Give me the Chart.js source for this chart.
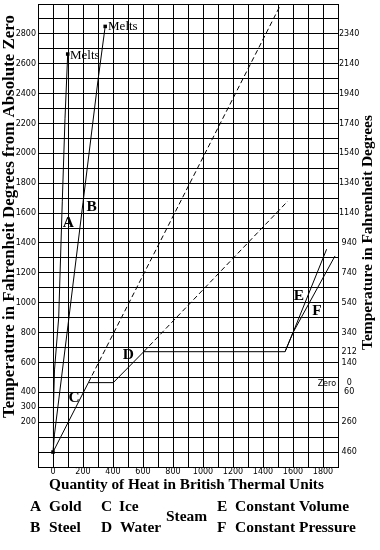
<!DOCTYPE html>
<html><head><meta charset="utf-8">
<script src="https://cdn.jsdelivr.net/npm/chart.js@4"></script>
<style>html,body{margin:0;padding:0;background:#fff;}canvas{display:block;}</style>
</head><body>
<canvas id="c" width="380" height="550"></canvas>
<script>
// ---- data (BTU vs. degrees Fahrenheit from absolute zero) ----
const seriesKeys  = ['A', 'B', 'C', 'D', 'E', 'F'];
const seriesNames = ['Gold', 'Steel', 'Ice', 'Water', 'Constant Volume', 'Constant Pressure'];

const goldBtu   = [0, 3, 10, 38, 62, 80, 98];
const goldTemp  = [0, 300, 550, 900, 1680, 2235, 2665];
const steelBtu  = [0, 10, 100, 200, 300, 348];
const steelTemp = [0, 120, 850, 1670, 2490, 2850];
const iceBtu    = [0, 236, 402];
const iceTemp   = [0, 465, 465];
const iceExtBtu  = [236, 1520];
const iceExtTemp = [465, 3000];
const waterBtu   = [402, 605, 1547];
const waterTemp  = [465, 672, 672];
const waterExtBtu  = [605, 1565];
const waterExtTemp = [672, 1680];
const volBtu   = [1547, 1600, 1824];
const volTemp  = [672, 800, 1358];
const presBtu  = [1547, 1600, 1880];
const presTemp = [672, 800, 1313];

const xTickLabels    = [0, 200, 400, 600, 800, 1000, 1200, 1400, 1600, 1800];
const leftTickLabels = [200, 300, 400, 600, 800, 1000, 1200, 1400, 1600, 1800, 2000, 2200, 2400, 2600, 2800];
const rightTickValues = [0, 200, 400, 460, 600, 672, 800, 1000, 1200, 1400, 1600, 1800, 2000, 2200, 2400, 2600, 2800];
const rightTickLabels = ['460', '260', '60', '0', '140', '212', '340', '540', '740', '940', '1140', '1340', '1540', '1740', '1940', '2140', '2340'];

// ---- text annotations placed in data coordinates ----
const SERIF = '"Liberation Serif", "Times New Roman", serif';
const SANS = '"DejaVu Sans", sans-serif';
const annotations = [
  { text: 'A', x: 102, y: 1542, kind: 'key', align: 'center' },
  { text: 'B', x: 258, y: 1647, kind: 'key', align: 'center' },
  { text: 'C', x: 140, y: 367, kind: 'key', align: 'center' },
  { text: 'D', x: 502, y: 658, kind: 'key', align: 'center' },
  { text: 'E', x: 1640, y: 1050, kind: 'key', align: 'center' },
  { text: 'F', x: 1760, y: 950, kind: 'key', align: 'center' },
  { text: 'Melts', x: 113, y: 2663, kind: 'melts', align: 'left' },
  { text: 'Melts', x: 367, y: 2853, kind: 'melts', align: 'left' },
  { text: 'Zero', x: 1887, y: 460, kind: 'small', align: 'right' }
];

function fitSize(ctx, text, weight, family, target) {
  ctx.font = weight + ' 20px ' + family;
  return 20 * target / ctx.measureText(text).width;
}

const textPlugin = {
  id: 'texts',
  afterDraw(chart) {
    const ctx = chart.ctx, sx = chart.scales.x, sy = chart.scales.y;
    ctx.save();
    ctx.fillStyle = '#000';
    ctx.textBaseline = 'alphabetic';
    const keySize = fitSize(ctx, 'Constant Pressure', 'bold', SERIF, 121);
    const cap = s => s * 0.33;
    for (const a of annotations) {
      let size, font;
      if (a.kind === 'key') { size = keySize; font = 'bold ' + size + 'px ' + SERIF; }
      else if (a.kind === 'melts') { size = 13; font = size + 'px ' + SERIF; }
      else { size = 8; font = size + 'px ' + SANS; }
      ctx.font = font;
      ctx.textAlign = a.align;
      ctx.fillText(a.text, sx.getPixelForValue(a.x), sy.getPixelForValue(a.y) + (a.kind === 'small' ? size * 0.36 : cap(size)));
    }
    // x axis title
    const xt = 'Quantity of Heat in British Thermal Units';
    ctx.font = 'bold ' + fitSize(ctx, xt, 'bold', SERIF, 275) + 'px ' + SERIF;
    ctx.textAlign = 'center';
    ctx.fillText(xt, 186.5, 489);
    // left title
    const lt = 'Temperature in Fahrenheit Degrees from Absolute Zero';
    ctx.save();
    ctx.font = 'bold ' + fitSize(ctx, lt, 'bold', SERIF, 403) + 'px ' + SERIF;
    ctx.translate(14, 216.5);
    ctx.rotate(-Math.PI / 2);
    ctx.textAlign = 'center';
    ctx.fillText(lt, 0, 0);
    ctx.restore();
    // right title
    const rt = 'Temperature in Fahrenheit Degrees';
    ctx.save();
    ctx.font = 'bold ' + fitSize(ctx, rt, 'bold', SERIF, 235) + 'px ' + SERIF;
    ctx.translate(372, 232.5);
    ctx.rotate(-Math.PI / 2);
    ctx.textAlign = 'center';
    ctx.fillText(rt, 0, 0);
    ctx.restore();
    // key
    ctx.font = 'bold ' + keySize + 'px ' + SERIF;
    ctx.textAlign = 'left';
    const keyX = [30, 30, 101, 101, 217, 217];
    const nameX = [49, 49, 119, 120, 235, 235];
    const rowY = [510.5, 532];
    seriesKeys.forEach((k, i) => {
      const y = rowY[i % 2];
      ctx.fillText(k, keyX[i], y);
      ctx.fillText(seriesNames[i], nameX[i], y);
    });
    ctx.fillText('Steam', 166, 521);
    ctx.restore();
  }
};

const pts = (xs, ys) => xs.map((x, i) => ({ x: x, y: ys[i] }));
function lineDs(label, xs, ys, dash, markers) {
  return {
    label: label, data: pts(xs, ys), showLine: true,
    borderColor: '#000', borderWidth: 1, borderDash: dash, tension: 0, fill: false,
    pointStyle: 'rect', pointBackgroundColor: '#000', pointBorderWidth: 0,
    pointRadius: c => (markers && markers.includes(c.dataIndex)) ? 2.5 : 0
  };
}

const zeroPad = s => { s.paddingTop = 0; s.paddingBottom = 0; s.paddingLeft = 0; s.paddingRight = 0; };

new Chart(document.getElementById('c'), {
  type: 'scatter',
  data: {
    datasets: [
      lineDs('A Gold', goldBtu, goldTemp, [], [0, goldBtu.length - 1]),
      lineDs('B Steel', steelBtu, steelTemp, [], [steelBtu.length - 1]),
      lineDs('C Ice', iceBtu, iceTemp, []),
      lineDs('C Ice (continued)', iceExtBtu, iceExtTemp, [5, 3]),
      lineDs('D Water', waterBtu, waterTemp, []),
      lineDs('D Water (continued)', waterExtBtu, waterExtTemp, [5, 3]),
      lineDs('E Steam, Constant Volume', volBtu, volTemp, []),
      lineDs('F Steam, Constant Pressure', presBtu, presTemp, [])
    ]
  },
  options: {
    responsive: false, animation: false, events: [],
    layout: { padding: { top: 2, left: 0, right: 0, bottom: 0 } },
    plugins: { legend: { display: false }, tooltip: { enabled: false } },
    scales: {
      x: {
        type: 'linear', position: 'bottom', min: -100, max: 1900,
        ticks: {
          stepSize: 100, autoSkip: false, maxRotation: 0, padding: 0, color: '#000',
          font: { family: 'DejaVu Sans', size: 8 },
          callback: v => xTickLabels.includes(v) ? String(v) : ''
        },
        grid: { color: '#000', lineWidth: 1, drawTicks: false },
        border: { color: '#000', width: 1 },
        afterFit: s => { s.height = 83; zeroPad(s); }
      },
      y: {
        type: 'linear', position: 'left', min: -100, max: 3000,
        ticks: {
          stepSize: 100, autoSkip: false, padding: 2, color: '#000',
          font: { family: 'DejaVu Sans', size: 8 },
          callback: v => leftTickLabels.includes(v) ? String(v) : ''
        },
        grid: { color: '#000', lineWidth: 1, drawTicks: false },
        border: { color: '#000', width: 1 },
        afterFit: s => { s.width = 38; zeroPad(s); }
      },
      y2: {
        type: 'linear', position: 'right', min: -100, max: 3000,
        afterBuildTicks: s => { s.ticks = rightTickValues.map(v => ({ value: v })); },
        ticks: {
          autoSkip: false, padding: 1, crossAlign: 'center', color: '#000',
          font: { family: 'DejaVu Sans', size: 8 },
          callback: v => { const i = rightTickValues.indexOf(v); return i >= 0 ? rightTickLabels[i] : ''; }
        },
        grid: { display: false, drawTicks: false },
        border: { display: false },
        afterFit: s => { s.width = 42; zeroPad(s); }
      }
    }
  },
  plugins: [textPlugin]
});
</script>
</body></html>
